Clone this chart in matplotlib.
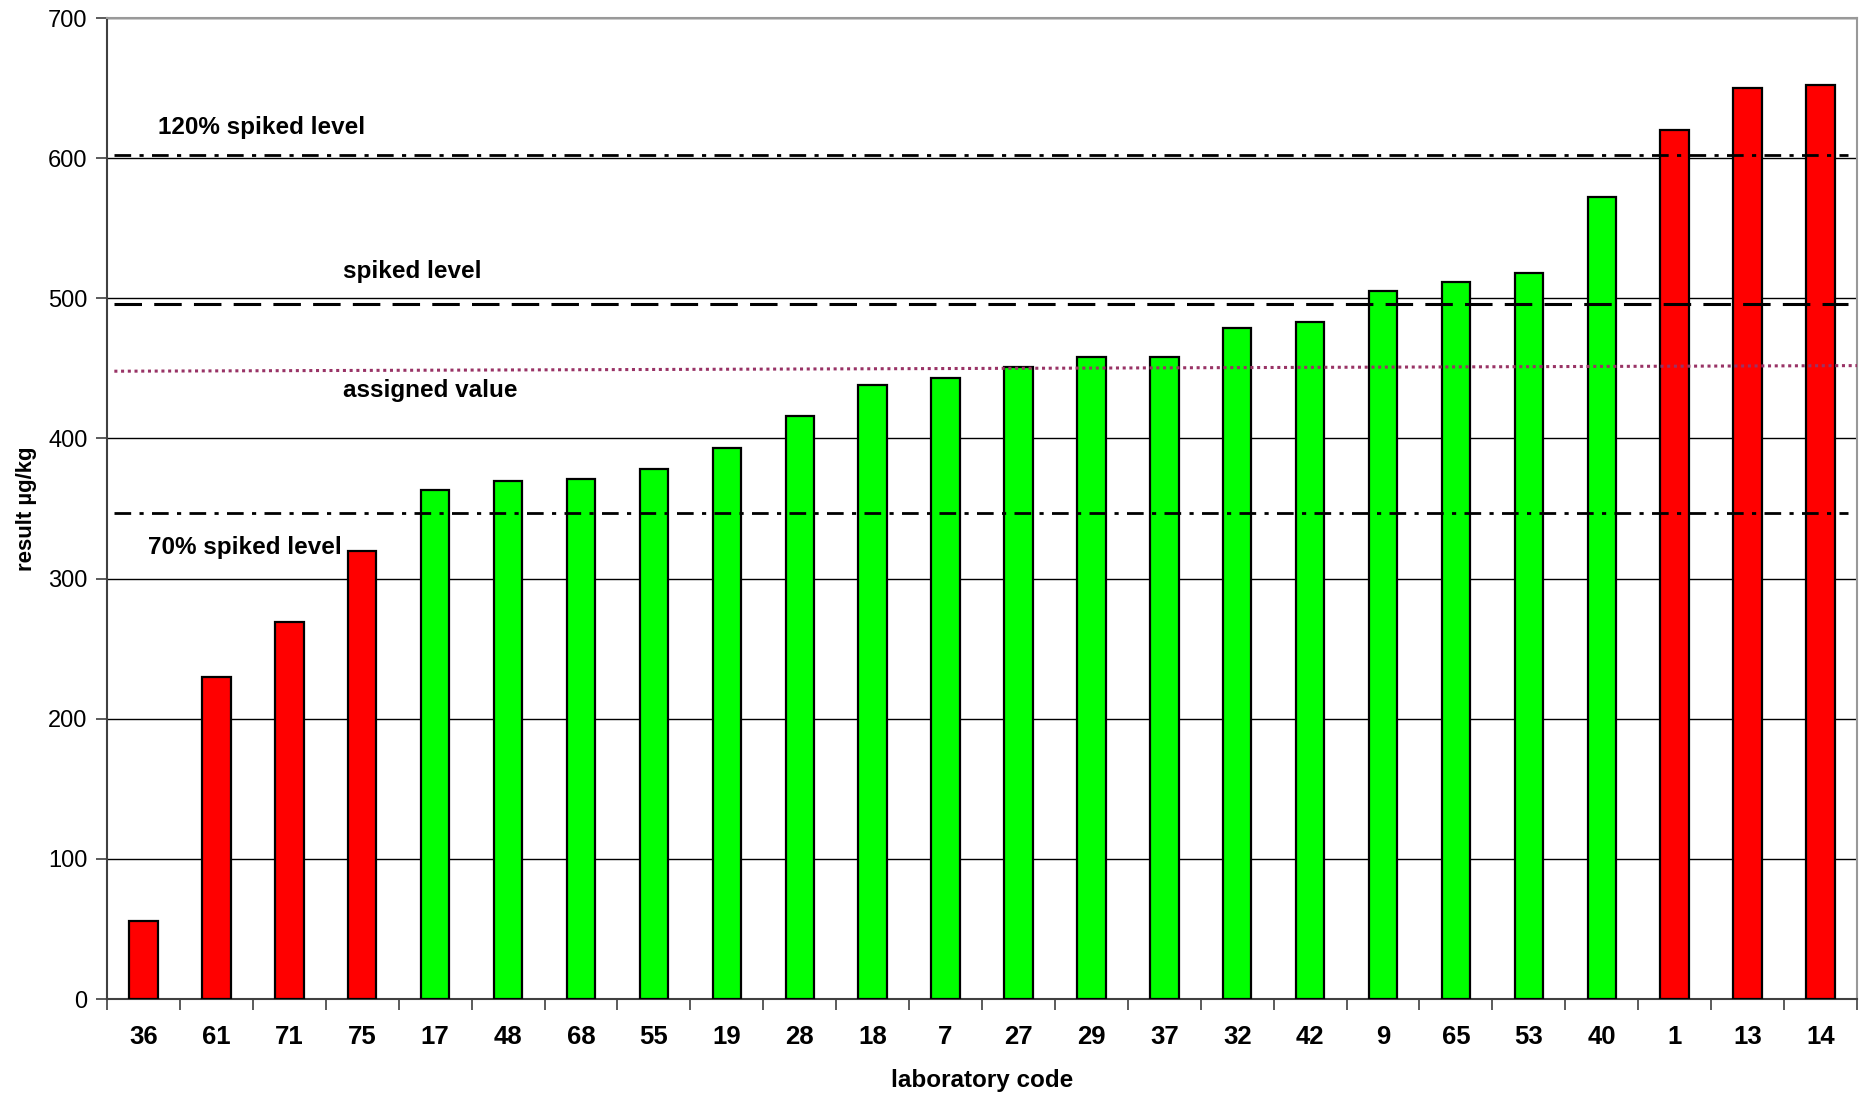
import matplotlib
matplotlib.use("Agg")
import matplotlib.pyplot as plt
import numpy as np

labs = ["36", "61", "71", "75", "17", "48", "68", "55", "19", "28", "18", "7",
        "27", "29", "37", "32", "42", "9", "65", "53", "40", "1", "13", "14"]
values = [56, 230, 269, 320, 363, 370, 371, 378, 393, 416, 438, 443,
          451, 458, 458, 479, 483, 505, 512, 518, 572, 620, 650, 652]
flags = ["r", "r", "r", "r", "g", "g", "g", "g", "g", "g", "g", "g",
         "g", "g", "g", "g", "g", "g", "g", "g", "g", "r", "r", "r"]
level_120 = 602
spiked = 496
level_70 = 347
assigned = [448, 452]
yticks = [0, 100, 200, 300, 400, 500, 600, 700]

plt.rcParams['font.family'] = ['Liberation Sans', 'DejaVu Sans']

fig = plt.figure(figsize=(18.65, 10.94), dpi=100)
ax = fig.add_axes([0.0574, 0.0868, 0.9383, 0.8967])

x = np.arange(len(labs))
colors = ["#FF0000" if f == "r" else "#00FF00" for f in flags]
ax.bar(x, values, width=0.39, color=colors, edgecolor="black", linewidth=1.6, zorder=3)

ax.set_xlim(-0.5, len(labs) - 0.5)
ax.set_ylim(0, 700)
ax.set_yticks(yticks)
ax.yaxis.grid(True, color="black", linewidth=1.0, zorder=0)
ax.set_axisbelow(True)

x0, x1 = -0.4, len(labs) - 0.63
ax.plot([x0, x1], [level_120, level_120], color="black", lw=2,
        dashes=(6, 3, 1.5, 3), zorder=4)
ax.plot([x0, x1], [level_70, level_70], color="black", lw=2,
        dashes=(6, 3, 1.5, 3), zorder=4)
ax.plot([x0, x1], [spiked, spiked], color="black", lw=2.2,
        dashes=(9, 4), zorder=4)
ax.plot([x0, len(labs) - 0.5], assigned, color="#993366", lw=2.2,
        dashes=(1, 1.2), zorder=4)

tkw = dict(fontsize=17.5, fontweight="bold", va="center", ha="left", zorder=5)
ax.text(0.2, 622, "120% spiked level", **tkw)
ax.text(2.74, 519, "spiked level", **tkw)
ax.text(2.74, 434, "assigned value", **tkw)
ax.text(0.06, 322, "70% spiked level", **tkw)

# x ticks at category boundaries
ax.set_xticks(np.arange(-0.5, len(labs), 1.0))
ax.set_xticklabels([])
ax.set_xticks(x, minor=True)
ax.set_xticklabels(labs, minor=True, fontsize=18.5, fontweight="bold",
                   family=['Liberation Sans Narrow', 'Liberation Sans'])
ax.tick_params(axis="x", which="minor", length=0, pad=19)
ax.tick_params(axis="x", which="major", length=8, width=1.2, color="#404040")
ax.tick_params(axis="y", length=8, width=1.2, color="#404040", labelsize=17, pad=6)

for s in ["left", "bottom"]:
    ax.spines[s].set_color("#404040")
    ax.spines[s].set_linewidth(1.5)
for s in ["top", "right"]:
    ax.spines[s].set_color("#999999")
    ax.spines[s].set_linewidth(1.5)

ax.set_xlabel("laboratory code", fontsize=17.5, fontweight="bold", labelpad=14)
ax.set_ylabel("result µg/kg", fontsize=16, fontweight="bold", labelpad=8)

fig.savefig("out.png", dpi=100)
